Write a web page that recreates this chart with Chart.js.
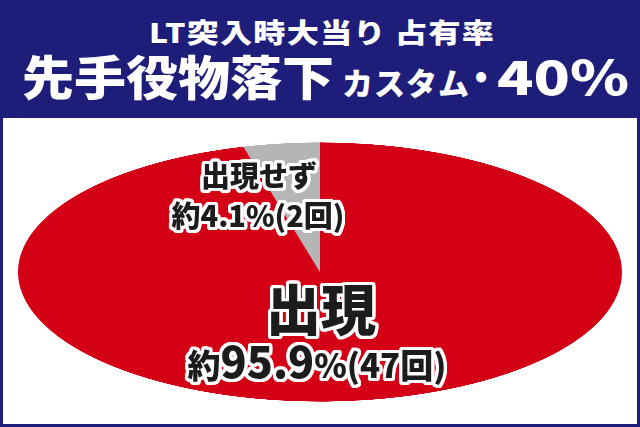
<!DOCTYPE html>
<html><head><meta charset="utf-8">
<script src="https://cdn.jsdelivr.net/npm/chart.js@4/dist/chart.umd.min.js"></script>
<style>
html,body{margin:0;padding:0;width:640px;height:427px;overflow:hidden;background:#1e1e7a;}
body{font-family:"Noto Sans CJK JP","Noto Sans",sans-serif;position:relative;}
#panel{position:absolute;left:3px;top:118px;width:634px;height:306px;background:#fff;}
.t{position:absolute;left:0;width:640px;color:#fff;font-weight:900;white-space:nowrap;}
.seg{display:inline-block;white-space:nowrap;}
.seg > span{display:inline-block;transform-origin:0 50%;}
#t1{top:18px;font-size:27px;line-height:27px;letter-spacing:1px;}
#t2{top:51px;font-size:47px;line-height:47px;}
#t2 .mid{font-size:31px;letter-spacing:1px;}
#wrap{position:absolute;left:0;top:-48.5px;width:640px;height:640px;transform:scaleY(0.429);transform-origin:50% 50%;}
.lab{position:absolute;color:#1c1c1c;font-weight:900;white-space:nowrap;transform:translate(-50%,-50%);
text-shadow:3px 0 0 #fff,-3px 0 0 #fff,0 3px 0 #fff,0 -3px 0 #fff,2px 2px 0 #fff,-2px 2px 0 #fff,2px -2px 0 #fff,-2px -2px 0 #fff,3px 1px 0 #fff,3px -1px 0 #fff,-3px 1px 0 #fff,-3px -1px 0 #fff,1px 3px 0 #fff,-1px 3px 0 #fff,1px -3px 0 #fff,-1px -3px 0 #fff,3px 2px 0 #fff,-3px 2px 0 #fff,3px -2px 0 #fff,-3px -2px 0 #fff,2px 3px 0 #fff,-2px 3px 0 #fff,2px -3px 0 #fff,-2px -3px 0 #fff;}
</style></head>
<body>
<div id="panel"></div>
<div class="t" id="t1"></div>
<div class="t" id="t2"></div>
<div id="wrap"><canvas id="c"></canvas></div>
<div class="lab" id="l1a" style="left:259px;top:174px;font-size:29px;line-height:29px;"></div>
<div class="lab" id="l1b" style="left:258px;top:214px;font-size:29px;line-height:29px;"></div>
<div class="lab" id="l0a" style="left:321px;top:306px;font-size:55px;line-height:55px;"></div>
<div class="lab" id="l0b" style="left:317px;top:361px;font-size:33px;line-height:42px;"></div>
<script>
const titleLine1 = 'LT突入時大当り 占有率';
const titleLine2Main = '先手役物落下';
const titleLine2Sub = 'カスタム';
const titleLine2Dot = '·';
const titleLine2Tail = '40%';
const categories = ['出現', '出現せず'];
const counts = [47, 2];
const percents = [95.9, 4.1];
const colors = ['#d40016', '#b5b5b6'];

function seg(text, cls, ml, w, mode) {
  return '<span class="seg ' + (cls || '') + '" style="margin-left:' + ml + 'px;width:' + w + 'px" data-w="' + w + '" data-mode="' + mode + '"><span>' + text + '</span></span>';
}
document.getElementById('t1').innerHTML = seg(titleLine1, '', 149, 346, 'scale');
document.getElementById('t2').innerHTML =
  seg(titleLine2Main, '', 22, 312, 'scale') +
  seg(titleLine2Sub, 'mid', 8, 128, 'scale') +
  seg(titleLine2Dot, '', 4, 14, 'center') +
  seg(titleLine2Tail, '', 9, 132, 'scale');

document.querySelectorAll('.seg').forEach(function (s) {
  const inner = s.firstChild;
  const w = inner.getBoundingClientRect().width;
  const W = +s.dataset.w;
  if (s.dataset.mode === 'scale') inner.style.transform = 'scaleX(' + (W / w) + ')';
  else inner.style.marginLeft = ((W - w) / 2) + 'px';
});

document.getElementById('l0a').textContent = categories[0];
document.getElementById('l0b').innerHTML = '約<span style="font-size:43px">' + percents[0] + '</span>%(' + counts[0] + '回)';
document.getElementById('l1a').textContent = categories[1];
document.getElementById('l1b').textContent = '約' + percents[1] + '%(' + counts[1] + '回)';

new Chart(document.getElementById('c'), {
  type: 'pie',
  data: { labels: categories, datasets: [{ data: counts, backgroundColor: colors, borderWidth: 0 }] },
  options: {
    responsive: true, maintainAspectRatio: false, animation: false, devicePixelRatio: 2,
    layout: { padding: 18 },
    plugins: { legend: { display: false }, tooltip: { enabled: false } }
  }
});
</script>
</body></html>
